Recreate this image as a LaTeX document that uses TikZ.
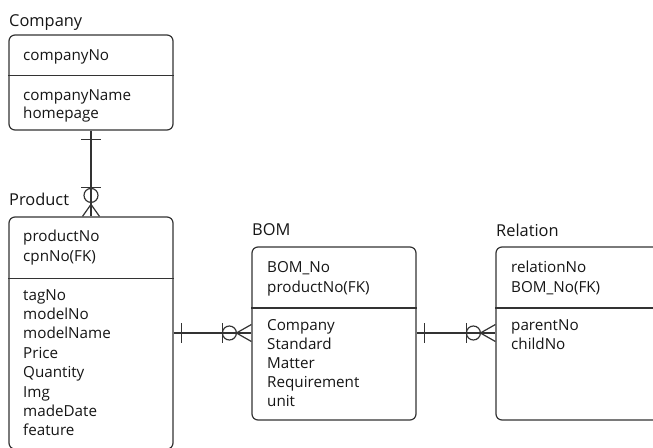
\documentclass[tikz,border=0pt]{standalone}
\usepackage{fontspec}
\setmainfont{Open Sans}
\usetikzlibrary{calc}
\definecolor{ink}{HTML}{151515}
\definecolor{edge}{HTML}{333333}
\begin{document}
\begin{tikzpicture}[x=1pt,y=-1pt,
  entity/.style={draw=edge,line width=1.2pt,rounded corners=6pt,inner sep=0pt},
  divider/.style={draw=edge,line width=1.2pt},
  attr/.style={anchor=base west,inner sep=0pt,text=ink,font=\fontsize{15.2}{18}\selectfont},
  title/.style={anchor=base west,inner sep=0pt,text=ink,font=\fontsize{16.4}{19}\selectfont},
  rel/.style={draw=edge,line width=1.2pt}]
\useasboundingbox (0,0) rectangle (653,447);
\begin{scope}
\clip (0,0) rectangle (653,447);

% ---- Company ----
\node[title] (tco) at (9,26) {Company};
\node[entity,minimum width=164pt,minimum height=95pt] (co) at (91,82.5) {};
\draw[divider] (co.west |- 0,75.5) -- (co.east |- 0,75.5);
\node[attr] (co1) at (23,60.5) {companyNo};
\node[attr] (co2) at (23,100) {companyName};
\node[attr] (co3) at (23,118.5) {homepage};

% ---- Product ----
\node[title] (tpr) at (9,205) {Product};
\node[entity,minimum width=164pt,minimum height=232pt] (pr) at (91,333) {};
\draw[divider] (pr.west |- 0,278.5) -- (pr.east |- 0,278.5);
\node[attr] (pr1) at (23,241.7) {productNo};
\node[attr] (pr2) at (23,261.2) {cpnNo(FK)};
\foreach \t [count=\i from 0] in {tagNo,modelNo,modelName,Price,Quantity,Img,madeDate,feature}
  \node[attr] (pra\i) at (23,300+19.4*\i) {\t};

% ---- BOM ----
\node[title] (tbm) at (252,235) {BOM};
\node[entity,minimum width=164pt,minimum height=173pt] (bm) at (334,333.5) {};
\draw[divider] (bm.west |- 0,308) -- (bm.east |- 0,308);
\node[attr] (bm1) at (267,272.7) {BOM\_No};
\node[attr] (bm2) at (267,292) {productNo(FK)};
\foreach \t [count=\i from 0] in {Company,Standard,Matter,Requirement,unit}
  \node[attr] (bma\i) at (267,330+19.2*\i) {\t};

% ---- Relation ----
\node[title] (trl) at (496,236) {Relation};
\node[entity,minimum width=176pt,minimum height=173pt] (rl) at (584,333.5) {};
\draw[divider] (rl.west |- 0,308) -- (rl.east |- 0,308);
\node[attr] (rl1) at (511,272.7) {relationNo};
\node[attr] (rl2) at (511,292) {BOM\_No(FK)};
\node[attr] (rl3) at (511,330) {parentNo};
\node[attr] (rl4) at (511,349.2) {childNo};
\end{scope}

% ---- Company 1 -- 0..* Product ----
\coordinate (a1) at (co.south);
\coordinate (a2) at (pr.north);
\draw[rel] (a1) -- (a2);
\draw[rel] ($(a1)+(-10,9)$) -- ($(a1)+(10,9)$);
\draw[rel] ($(a2)+(-10,-29)$) -- ($(a2)+(10,-29)$);
\draw[rel] ($(a2)+(0,-21)$) circle[radius=7pt];
\draw[rel] ($(a2)+(-8.5,0)$) -- ($(a2)+(0,-12)$) -- ($(a2)+(8.5,0)$);

% ---- Product 1 -- 0..* BOM ----
\coordinate (b1) at (pr.east |- 0,333);
\coordinate (b2) at (bm.west |- 0,333);
\draw[rel] (b1) -- (b2);
\draw[rel] ($(b1)+(8,-10)$) -- ($(b1)+(8,10)$);
\draw[rel] ($(b2)+(-29,-10)$) -- ($(b2)+(-29,10)$);
\draw[rel] ($(b2)+(-22,0)$) circle[radius=7pt];
\draw[rel] ($(b2)+(0,-8.5)$) -- ($(b2)+(-15,0)$) -- ($(b2)+(0,8.5)$);

% ---- BOM 1 -- 0..* Relation ----
\coordinate (c1) at (bm.east |- 0,333);
\coordinate (c2) at (rl.west |- 0,333);
\draw[rel] (c1) -- (c2);
\draw[rel] ($(c1)+(8,-10)$) -- ($(c1)+(8,10)$);
\draw[rel] ($(c2)+(-29,-10)$) -- ($(c2)+(-29,10)$);
\draw[rel] ($(c2)+(-22,0)$) circle[radius=7pt];
\draw[rel] ($(c2)+(0,-8.5)$) -- ($(c2)+(-15,0)$) -- ($(c2)+(0,8.5)$);
\end{tikzpicture}
\end{document}
